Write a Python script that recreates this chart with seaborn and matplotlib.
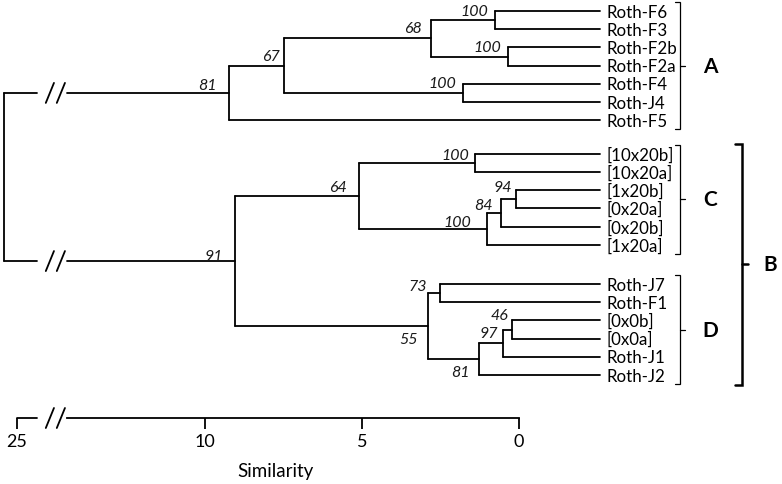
import matplotlib
matplotlib.use("Agg")
import numpy as np
import pandas as pd
import matplotlib.pyplot as plt
import seaborn as sns

# Leaves (top to bottom) and the cluster each belongs to
leaf_labels = ["Roth-F6", "Roth-F3", "Roth-F2b", "Roth-F2a", "Roth-F4", "Roth-J4", "Roth-F5",
               "[10x20b]", "[10x20a]", "[1x20b]", "[0x20a]", "[0x20b]", "[1x20a]",
               "Roth-J7", "Roth-F1", "[0x0b]", "[0x0a]", "Roth-J1", "Roth-J2"]
leaf_group = ["A"] * 7 + ["C"] * 6 + ["D"] * 6

# Merges: children, similarity height and bootstrap support
node_names = ["n1", "n2", "n3", "n4", "n5", "n6",
              "c1", "c2", "c3", "c4", "c5",
              "d1", "d2", "d3", "d4", "d5", "b", "root"]
node_left = ["Roth-F6", "Roth-F2b", "n1", "Roth-F4", "n3", "n5",
             "[10x20b]", "[1x20b]", "c2", "c3", "c1",
             "Roth-J7", "[0x0b]", "d2", "d3", "d1", "c5", "n6"]
node_right = ["Roth-F3", "Roth-F2a", "n2", "Roth-J4", "n4", "Roth-F5",
              "[10x20a]", "[0x20a]", "[0x20b]", "[1x20a]", "c4",
              "Roth-F1", "[0x0a]", "Roth-J1", "Roth-J2", "d4", "d5", "b"]
node_height = [0.76, 0.36, 2.81, 1.79, 7.48, 9.24,
               1.40, 0.10, 0.56, 1.03, 5.10,
               2.52, 0.22, 0.50, 1.28, 2.89, 9.04, 25.4]
node_support = [100, 100, 68, 100, 67, 81,
                100, 94, 84, 100, 64,
                73, 46, 97, 81, 55, 91, None]

tick_values = [25, 10, 5, 0]

# ---- layout / style ----
PX = 31.4                      # pixels per similarity unit
GROUP_SHIFT = {"A": 0.0, "C": 0.85, "D": 2.0}
LEAF_END = -2.58
LABEL_X = -2.78
GAP_LO, GAP_HI = 14.39, 15.35  # break in the long branches
SLASH_X = [14.94, 14.59]
Y_AXIS = 22.36
LW = 1.3

# label offsets (dx in px, dy in leaf rows) for the support values
label_dx = [7, 7, 9, 7, 4, 12, 6, 4, 9, 16, 12, 13, 4, 5, 9, 10, 12]
label_dy = [-0.5, -0.5, -0.57, -0.54, -0.53, -0.43, -0.44, -0.68, -0.44, -0.39, -0.49,
            -0.4, -0.8, -0.55, 0.71, 0.71, -0.28]


def to_plot(s):
    # compress the axis above the break
    return s if s <= 12 else s - 9


sns.set_theme(style="white")
plt.rcParams["font.family"] = ["Lato", "DejaVu Sans"]

pos = {}
for i, (name, g) in enumerate(zip(leaf_labels, leaf_group)):
    pos[name] = (LEAF_END, i + GROUP_SHIFT[g])
for name, l, r, h in zip(node_names, node_left, node_right, node_height):
    pos[name] = (to_plot(h), (pos[l][1] + pos[r][1]) / 2)

segs = []


def add(x0, y0, x1, y1):
    k = len(segs)
    segs.append({"seg": k, "x": x0, "y": y0})
    segs.append({"seg": k, "x": x1, "y": y1})


for name, l, r in zip(node_names, node_left, node_right):
    x, _ = pos[name]
    add(x, pos[l][1], x, pos[r][1])
    for c in (l, r):
        cx, cy = pos[c]
        if name == "root":
            add(cx, cy, GAP_LO, cy)
            add(GAP_HI, cy, x, cy)
            for sx in SLASH_X:
                add(sx + 0.13, cy + 0.55, sx - 0.13, cy - 0.55)
        else:
            add(cx, cy, x, cy)

seg_df = pd.DataFrame(segs)

fig = plt.figure(figsize=(7.82, 4.85), dpi=100)
ax = fig.add_axes([0, 66 / 485, 1, 419 / 485])

sns.lineplot(data=seg_df, x="x", y="y", units="seg", estimator=None, sort=False,
             color="black", linewidth=LW, ax=ax, legend=False)

# leaf labels
for name in leaf_labels:
    ax.text(LABEL_X, pos[name][1] + 0.03, name, ha="left", va="center",
            fontsize=12.2, color="black")

# bootstrap values
for name, sup, dx, dy in zip(node_names, node_support, label_dx, label_dy):
    if sup is None:
        continue
    x, y = pos[name]
    ax.text(x + dx / PX, y + dy, str(sup), ha="right", va="center",
            fontsize=11.5, fontstyle="italic", color="#1a1a1a")


# cluster brackets
def bracket(x, x_hook, x_tick, y0, y1, lw):
    ym = (y0 + y1) / 2
    ax.plot([x_hook, x, x, x_hook], [y0, y0, y1, y1], color="black", lw=lw,
            solid_joinstyle="miter", clip_on=False)
    ax.plot([x, x_tick], [ym, ym], color="black", lw=lw, clip_on=False)
    return ym


for g in ["A", "C", "D"]:
    ys = [pos[n][1] for n, gg in zip(leaf_labels, leaf_group) if gg == g]
    ym = bracket(-5.13, -4.97, -5.29, min(ys) - 0.5, max(ys) + 0.5, 0.9)
    ax.text(-6.08, ym, g, ha="center", va="center", fontsize=15,
            fontweight="bold", color="black")

ys_b = [pos[n][1] for n, gg in zip(leaf_labels, leaf_group) if gg in ("C", "D")]
ym = bracket(-7.10, -6.88, -7.29, min(ys_b) - 0.55, max(ys_b) + 0.55, 1.8)
ax.text(-7.99, ym, "B", ha="center", va="center", fontsize=15,
        fontweight="bold", color="black")

# broken similarity axis
ax.set_xlim(519 / PX, (519 - 782) / PX)
ax.set_ylim(Y_AXIS, -12 / 18.2)
for s in ["top", "right", "left"]:
    ax.spines[s].set_visible(False)
ax.spines["bottom"].set_bounds(0, GAP_LO)
ax.spines["bottom"].set_linewidth(LW)
ax.spines["bottom"].set_color("black")
ax.plot([to_plot(25), GAP_HI], [Y_AXIS, Y_AXIS], color="black", lw=LW, clip_on=False)
for sx in SLASH_X:
    ax.plot([sx + 0.13, sx - 0.13], [Y_AXIS + 0.55, Y_AXIS - 0.55], color="black",
            lw=LW, clip_on=False)

ax.set_xticks([to_plot(v) for v in tick_values], labels=[str(v) for v in tick_values])
ax.set_yticks([])
ax.tick_params(axis="x", bottom=True, direction="out", length=8, width=LW,
               color="black", labelcolor="black", labelsize=13, pad=3)
ax.set_ylabel("")
ax.set_xlabel("Similarity", fontsize=13.5, color="black")
ax.xaxis.set_label_coords(275 / 782, -0.105)
ax.grid(False)

fig.savefig("out.png", dpi=100)
